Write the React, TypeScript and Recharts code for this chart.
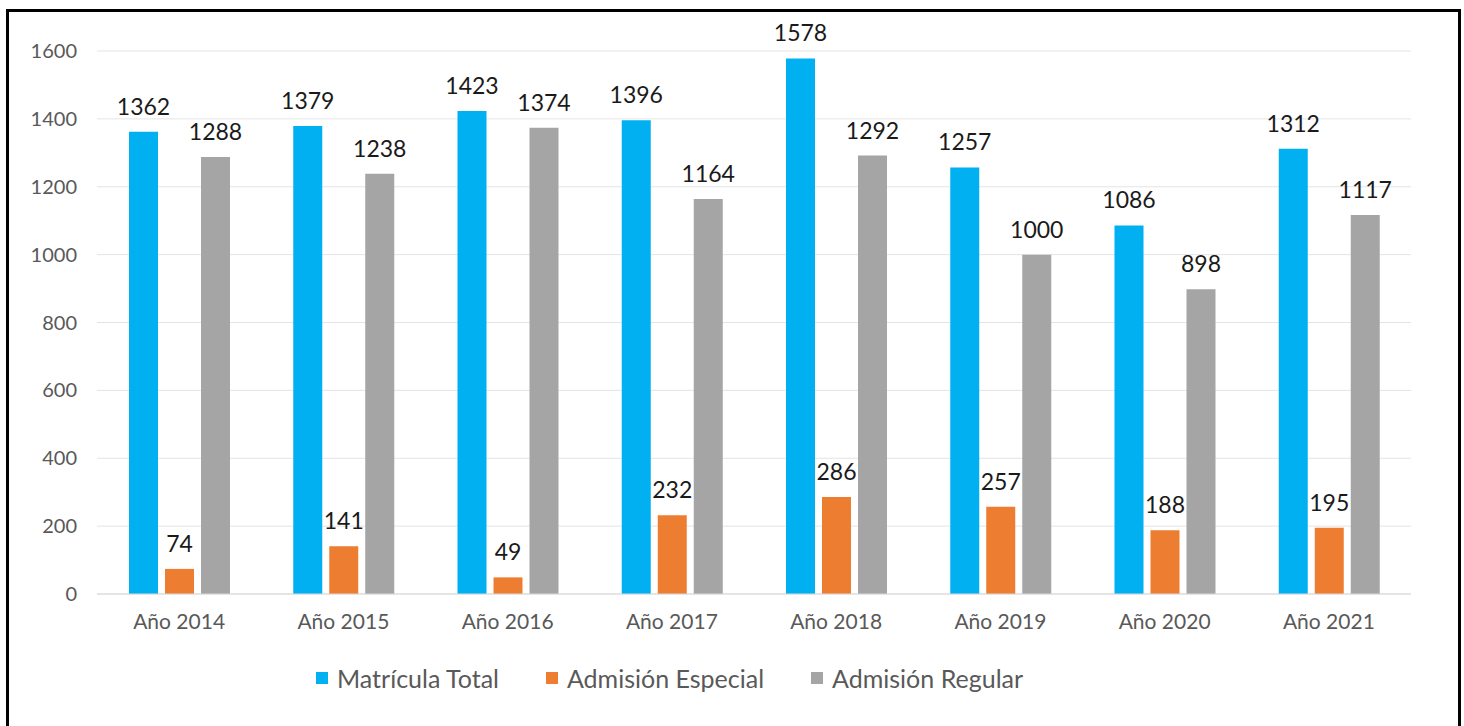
import { BarChart, Bar, XAxis, YAxis, CartesianGrid, Legend, LabelList } from 'recharts';

const years = ['Año 2014', 'Año 2015', 'Año 2016', 'Año 2017', 'Año 2018', 'Año 2019', 'Año 2020', 'Año 2021'];
const matriculaTotal = [1362, 1379, 1423, 1396, 1578, 1257, 1086, 1312];
const admisionEspecial = [74, 141, 49, 232, 286, 257, 188, 195];
const admisionRegular = [1288, 1238, 1374, 1164, 1292, 1000, 898, 1117];
const yTicks = [0, 200, 400, 600, 800, 1000, 1200, 1400, 1600];
const seriesNames = ['Matrícula Total', 'Admisión Especial', 'Admisión Regular'];

const data = years.map((year, i) => ({
  year,
  total: matriculaTotal[i],
  especial: admisionEspecial[i],
  regular: admisionRegular[i],
}));

const font = 'Lato, "Open Sans", sans-serif';

function LegendBox({ payload }: any) {
  const items = seriesNames
    .map((n) => (payload || []).find((p: any) => p.value === n))
    .filter(Boolean);
  return (
    <div style={{ display: 'flex', fontFamily: font, fontSize: 25, color: '#595959', lineHeight: '28px' }}>
      {items.map((p: any) => (
        <div key={p.value} style={{ display: 'flex', alignItems: 'center', marginRight: 47 }}>
          <span style={{ width: 12, height: 12, background: p.color, marginRight: 9, display: 'inline-block' }} />
          {p.value}
        </div>
      ))}
    </div>
  );
}

function App() {
  const labelStyle = { fontFamily: font, fontSize: 23, fill: '#1a1a1a' };
  return (
    <div style={{ position: 'absolute', left: 0, top: 0, width: 1464, height: 726, background: '#fff', overflow: 'hidden' }}>
      <div
        style={{
          position: 'absolute',
          left: 6,
          top: 9,
          width: 1449,
          height: 730,
          border: '3px solid #000',
        }}
      />
      <div style={{ position: 'absolute', left: 0, top: 0 }}>
        <BarChart
          width={1464}
          height={726}
          data={data}
          margin={{ top: 51, right: 53, left: 37, bottom: 74 }}
          barSize={29}
          barGap={7}
        >
          <CartesianGrid vertical={false} stroke="#e4e4e4" />
          <XAxis
            dataKey="year"
            axisLine={{ stroke: '#d9d9d9' }}
            tickLine={false}
            tickSize={0}
            tickMargin={20}
            tick={{ fontFamily: font, fontSize: 21, fill: '#595959' }}
          />
          <YAxis
            width={60}
            domain={[0, 1600]}
            ticks={yTicks}
            axisLine={false}
            tickLine={false}
            tickSize={0}
            tickMargin={20}
            tick={{ fontFamily: font, fontSize: 20, fill: '#595959' }}
          />
          <Legend
            verticalAlign="bottom"
            content={<LegendBox />}
            wrapperStyle={{ left: 316, bottom: 34, width: 800 }}
          />
          <Bar dataKey="total" name="Matrícula Total" fill="#00B0F0" isAnimationActive={false}>
            <LabelList dataKey="total" position="top" offset={17} style={labelStyle} />
          </Bar>
          <Bar dataKey="especial" name="Admisión Especial" fill="#ED7D31" isAnimationActive={false}>
            <LabelList dataKey="especial" position="top" offset={17} style={labelStyle} />
          </Bar>
          <Bar dataKey="regular" name="Admisión Regular" fill="#A5A5A5" isAnimationActive={false}>
            <LabelList dataKey="regular" position="top" offset={17} style={labelStyle} />
          </Bar>
        </BarChart>
      </div>
    </div>
  );
}

export default App;
